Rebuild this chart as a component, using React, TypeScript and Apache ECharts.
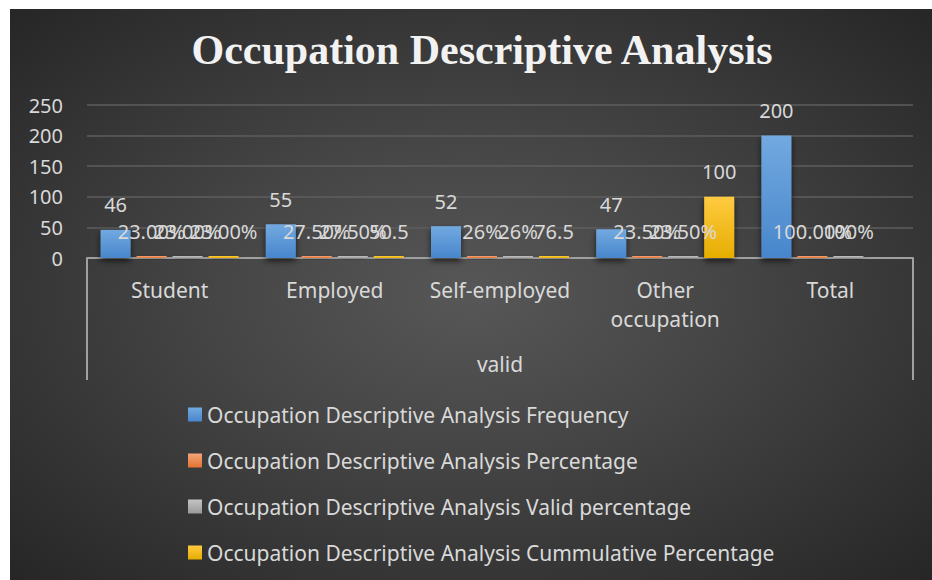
import React, { useEffect, useRef } from "react";
import * as echarts from "echarts";

const categories = ["Student", "Employed", "Self-employed", "Other\noccupation", "Total"];
const groupLabel = ["valid"];
const seriesNames = [
  "Occupation Descriptive Analysis Frequency",
  "Occupation Descriptive Analysis Percentage",
  "Occupation Descriptive Analysis Valid percentage",
  "Occupation Descriptive Analysis Cummulative Percentage",
];
const frequency = [46, 55, 52, 47, 200];
const frequencyLabels = ["46", "55", "52", "47", "200"];
const percentage = [0.23, 0.275, 0.26, 0.235, 1.0];
const percentageLabels = ["23.00%", "27.50%", "26%", "23.50%", "100.00%"];
const validPercentage = [0.23, 0.275, 0.26, 0.235, 1.0];
const validPercentageLabels = ["23.00%", "27.50%", "26%", "23.50%", "100%"];
const cumulative: (number | null)[] = [0.23, 0.505, 0.765, 100, null];
const cumulativeLabels = ["23.00%", "50.5", "76.5", "100", ""];
const yTicks = { min: 0, max: 250, interval: 50 };

const FONT = "'Noto Sans', sans-serif";
const TXT = "#d9d9d9";

const grad = (top: string, bottom: string) =>
  new echarts.graphic.LinearGradient(0, 0, 0, 1, [
    { offset: 0, color: top },
    { offset: 1, color: bottom },
  ]);

export default function App() {
  const ref = useRef<HTMLDivElement>(null);
  useEffect(() => {
    if (!ref.current) return;
    const chart = echarts.init(ref.current, undefined, { renderer: "svg" });
    const colors = [
      grad("#72a9e0", "#4886cc"),
      grad("#f4a57a", "#e27330"),
      grad("#c4c4c4", "#9a9a9a"),
      grad("#ffcb40", "#e6ad00"),
    ];
    const values = [frequency, percentage, validPercentage, cumulative];
    const labels = [frequencyLabels, percentageLabels, validPercentageLabels, cumulativeLabels];
    chart.setOption({
      animation: false,
      backgroundColor: "transparent",
      title: {
        text: "Occupation Descriptive Analysis",
        left: 467,
        textAlign: "center",
        top: 15,
        textStyle: {
          fontFamily: "'Liberation Serif', serif",
          fontWeight: "bold",
          fontSize: 42,
          color: "#f2f2f2",
        },
      },
      legend: {
        orient: "vertical",
        left: 178,
        top: 395,
        padding: 0,
        itemWidth: 14,
        itemHeight: 14,
        itemGap: 25,
        icon: "rect",
        textStyle: { color: TXT, fontSize: 21, fontFamily: FONT, lineHeight: 20 },
        data: seriesNames,
      },
      grid: { left: 77, right: 19, top: 96, bottom: 322, containLabel: false },
      xAxis: [
        {
          type: "category",
          data: categories,
          position: "bottom",
          axisLine: { show: true, lineStyle: { color: "#a0a0a0", width: 2 } },
          axisTick: { show: false },
          axisLabel: {
            color: TXT,
            fontSize: 21,
            fontFamily: FONT,
            margin: 17,
            lineHeight: 29,
            interval: 0,
          },
        },
        {
          type: "category",
          data: groupLabel,
          position: "bottom",
          axisLine: { show: false },
          axisTick: { show: true, length: 122, lineStyle: { color: "#a0a0a0", width: 2 } },
          axisLabel: { color: TXT, fontSize: 21, fontFamily: FONT, margin: 95 },
        },
      ],
      yAxis: {
        type: "value",
        min: yTicks.min,
        max: yTicks.max,
        interval: yTicks.interval,
        axisLine: { show: false },
        axisTick: { show: false },
        axisLabel: { color: TXT, fontSize: 20, fontFamily: FONT, margin: 24 },
        splitLine: { lineStyle: { color: "#5e5e5e", width: 1.5 } },
      },
      series: seriesNames.map((name, i) => ({
        name,
        type: "bar",
        xAxisIndex: 0,
        data: values[i],
        barWidth: 30,
        barGap: "20%",
        barMinHeight: 2,
        itemStyle: {
          color: colors[i],
          shadowBlur: 6,
          shadowColor: "rgba(0,0,0,0.65)",
          shadowOffsetY: 3,
        },
        label: {
          show: true,
          position: "top",
          distance: 15,
          color: TXT,
          fontSize: 20,
          fontFamily: FONT,
          formatter: (p: any) => labels[i][p.dataIndex],
        },
      })),
    });
    return () => chart.dispose();
  }, []);
  return (
    <div
      ref={ref}
      style={{
        position: "absolute",
        left: 10,
        top: 9,
        width: 922,
        height: 571,
        background:
          "radial-gradient(ellipse farthest-corner at 50% 50%, #575757 0%, #454545 40%, #262626 100%)",
      }}
    />
  );
}
